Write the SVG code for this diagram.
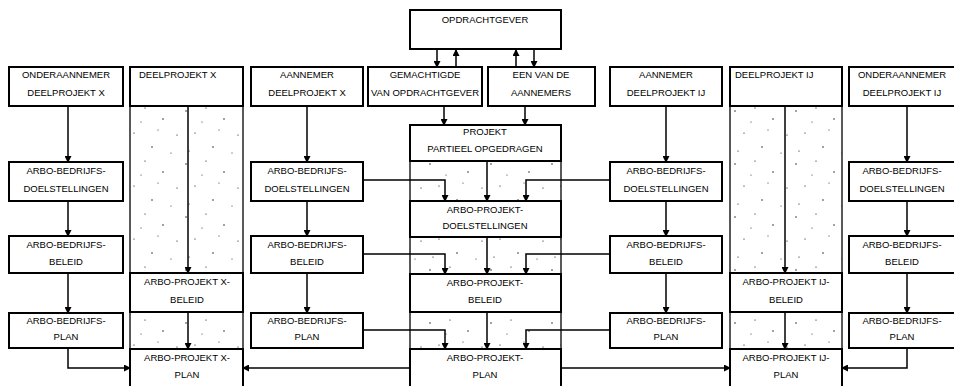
<svg xmlns="http://www.w3.org/2000/svg" width="954" height="386" viewBox="0 0 954 386">
<defs>
<pattern id="dots" width="61" height="53" patternUnits="userSpaceOnUse">
<circle cx="3" cy="5" r="0.7"/><circle cx="23" cy="2" r="0.6"/><circle cx="41" cy="13" r="0.7"/><circle cx="55" cy="29" r="0.6"/><circle cx="12" cy="27" r="0.6"/><circle cx="30" cy="41" r="0.7"/><circle cx="49" cy="47" r="0.5"/><circle cx="19" cy="16" r="0.5"/><circle cx="6" cy="45" r="0.6"/><circle cx="36" cy="24" r="0.5"/>
</pattern>
<marker id="ah" markerWidth="7" markerHeight="7" refX="6" refY="3.5" orient="auto" markerUnits="userSpaceOnUse">
<path d="M0,0 L7,3.5 L0,7 Z" fill="#000"/>
</marker>
<style>
.b{fill:#fff;stroke:#000;stroke-width:2}
.s{fill:url(#dots);stroke:#000;stroke-width:1.3}
.t{font-family:"Liberation Sans",Arial,sans-serif;font-size:9.5px;fill:#000;text-anchor:middle}
.l{text-anchor:start}
.c{fill:none;stroke:#000;stroke-width:1.5;marker-end:url(#ah)}
</style>
</defs>
<rect width="954" height="386" fill="#fff"/>

<g id="col-deelprojekt-x">
<rect class="s" x="130" y="67" width="113" height="320"/>
</g>
<g id="col-central">
<rect class="s" x="410" y="125" width="151" height="262"/>
</g>
<g id="col-deelprojekt-ij">
<rect class="s" x="730" y="67" width="112" height="320"/>
</g>

<g id="opdrachtgever"><rect class="b" x="410" y="10" width="151" height="39"/><text class="t" x="485" y="23">OPDRACHTGEVER</text></g>

<g id="onderaannemer-x"><rect class="b" x="9" y="67" width="114" height="39"/><text class="t" x="66" y="78">ONDERAANNEMER</text><text class="t" x="66" y="96">DEELPROJEKT X</text></g>
<g id="deelprojekt-x"><rect class="b" x="130" y="67" width="113" height="39"/><text class="t l" x="139" y="78">DEELPROJEKT X</text></g>
<g id="aannemer-x"><rect class="b" x="251" y="67" width="112" height="39"/><text class="t" x="307" y="78">AANNEMER</text><text class="t" x="307" y="96">DEELPROJEKT X</text></g>
<g id="gemachtigde"><rect class="b" x="368" y="67" width="114" height="39"/><text class="t" x="425" y="78">GEMACHTIGDE</text><text class="t" x="425" y="96">VAN OPDRACHTGEVER</text></g>
<g id="een-van-de-aannemers"><rect class="b" x="488" y="67" width="107" height="39"/><text class="t" x="541" y="78">EEN VAN DE</text><text class="t" x="541" y="96">AANNEMERS</text></g>
<g id="aannemer-ij"><rect class="b" x="610" y="67" width="112" height="39"/><text class="t" x="666" y="78">AANNEMER</text><text class="t" x="666" y="96">DEELPROJEKT IJ</text></g>
<g id="deelprojekt-ij"><rect class="b" x="730" y="67" width="112" height="39"/><text class="t l" x="735" y="78">DEELPROJEKT IJ</text></g>
<g id="onderaannemer-ij"><rect class="b" x="849" y="67" width="112" height="39"/><text class="t" x="902" y="78">ONDERAANNEMER</text><text class="t" x="902" y="96">DEELPROJEKT IJ</text></g>

<g id="projekt-partieel"><rect class="b" x="410" y="125" width="151" height="36"/><text class="t" x="485" y="135">PROJEKT</text><text class="t" x="485" y="152">PARTIEEL OPGEDRAGEN</text></g>

<g id="a-doel"><rect class="b" x="9" y="162" width="114" height="39"/><text class="t" x="66" y="174">ARBO-BEDRIJFS-</text><text class="t" x="66" y="192">DOELSTELLINGEN</text></g>
<g id="a-beleid"><rect class="b" x="9" y="236" width="114" height="37"/><text class="t" x="66" y="248">ARBO-BEDRIJFS-</text><text class="t" x="66" y="265">BELEID</text></g>
<g id="a-plan"><rect class="b" x="9" y="313" width="114" height="35"/><text class="t" x="66" y="324">ARBO-BEDRIJFS-</text><text class="t" x="66" y="340">PLAN</text></g>

<g id="b-doel"><rect class="b" x="251" y="162" width="112" height="39"/><text class="t" x="307" y="174">ARBO-BEDRIJFS-</text><text class="t" x="307" y="192">DOELSTELLINGEN</text></g>
<g id="b-beleid"><rect class="b" x="251" y="236" width="112" height="37"/><text class="t" x="307" y="248">ARBO-BEDRIJFS-</text><text class="t" x="307" y="265">BELEID</text></g>
<g id="b-plan"><rect class="b" x="251" y="313" width="112" height="35"/><text class="t" x="307" y="324">ARBO-BEDRIJFS-</text><text class="t" x="307" y="340">PLAN</text></g>

<g id="c-doel"><rect class="b" x="610" y="162" width="112" height="39"/><text class="t" x="666" y="174">ARBO-BEDRIJFS-</text><text class="t" x="666" y="192">DOELSTELLINGEN</text></g>
<g id="c-beleid"><rect class="b" x="610" y="236" width="112" height="37"/><text class="t" x="666" y="248">ARBO-BEDRIJFS-</text><text class="t" x="666" y="265">BELEID</text></g>
<g id="c-plan"><rect class="b" x="610" y="313" width="112" height="35"/><text class="t" x="666" y="324">ARBO-BEDRIJFS-</text><text class="t" x="666" y="340">PLAN</text></g>

<g id="d-doel"><rect class="b" x="849" y="162" width="112" height="39"/><text class="t" x="902" y="174">ARBO-BEDRIJFS-</text><text class="t" x="902" y="192">DOELSTELLINGEN</text></g>
<g id="d-beleid"><rect class="b" x="849" y="236" width="112" height="37"/><text class="t" x="902" y="248">ARBO-BEDRIJFS-</text><text class="t" x="902" y="265">BELEID</text></g>
<g id="d-plan"><rect class="b" x="849" y="313" width="112" height="35"/><text class="t" x="902" y="324">ARBO-BEDRIJFS-</text><text class="t" x="902" y="340">PLAN</text></g>

<g id="x-beleid"><rect class="b" x="130" y="273" width="113" height="39"/><text class="t" x="187" y="285">ARBO-PROJEKT X-</text><text class="t" x="187" y="303">BELEID</text></g>
<g id="x-plan"><rect class="b" x="130" y="349" width="113" height="40"/><text class="t" x="187" y="361">ARBO-PROJEKT X-</text><text class="t" x="187" y="378">PLAN</text></g>

<g id="p-doel"><rect class="b" x="410" y="201" width="151" height="36"/><text class="t" x="485" y="213">ARBO-PROJEKT-</text><text class="t" x="485" y="229">DOELSTELLINGEN</text></g>
<g id="p-beleid"><rect class="b" x="410" y="274" width="151" height="38"/><text class="t" x="485" y="286">ARBO-PROJEKT-</text><text class="t" x="485" y="303">BELEID</text></g>
<g id="p-plan"><rect class="b" x="410" y="349" width="151" height="40"/><text class="t" x="485" y="361">ARBO-PROJEKT-</text><text class="t" x="485" y="378">PLAN</text></g>

<g id="ij-beleid"><rect class="b" x="730" y="273" width="112" height="39"/><text class="t" x="786" y="285">ARBO-PROJEKT IJ-</text><text class="t" x="786" y="303">BELEID</text></g>
<g id="ij-plan"><rect class="b" x="730" y="349" width="112" height="40"/><text class="t" x="786" y="361">ARBO-PROJEKT IJ-</text><text class="t" x="786" y="378">PLAN</text></g>

<g id="connectors">
<line class="c" x1="437" y1="49" x2="437" y2="67"/>
<line class="c" x1="456" y1="67" x2="456" y2="50"/>
<line class="c" x1="516" y1="67" x2="516" y2="50"/>
<line class="c" x1="534" y1="49" x2="534" y2="67"/>
<line class="c" x1="444" y1="106" x2="444" y2="125"/>
<line class="c" x1="525" y1="106" x2="525" y2="125"/>

<line class="c" x1="68" y1="106" x2="68" y2="162"/>
<line class="c" x1="68" y1="201" x2="68" y2="236"/>
<line class="c" x1="68" y1="273" x2="68" y2="313"/>
<line class="c" x1="307" y1="106" x2="307" y2="162"/>
<line class="c" x1="307" y1="201" x2="307" y2="236"/>
<line class="c" x1="307" y1="273" x2="307" y2="313"/>
<line class="c" x1="666" y1="106" x2="666" y2="162"/>
<line class="c" x1="666" y1="201" x2="666" y2="236"/>
<line class="c" x1="666" y1="273" x2="666" y2="313"/>
<line class="c" x1="907" y1="106" x2="907" y2="162"/>
<line class="c" x1="907" y1="201" x2="907" y2="236"/>
<line class="c" x1="907" y1="273" x2="907" y2="313"/>

<line class="c" x1="188" y1="106" x2="188" y2="273"/>
<line class="c" x1="188" y1="312" x2="188" y2="349"/>
<line class="c" x1="785" y1="106" x2="785" y2="273"/>
<line class="c" x1="785" y1="312" x2="785" y2="349"/>

<line class="c" x1="487" y1="161" x2="487" y2="201"/>
<line class="c" x1="487" y1="237" x2="487" y2="274"/>
<line class="c" x1="487" y1="312" x2="487" y2="349"/>

<path class="c" d="M363,180 H445 V201"/>
<path class="c" d="M363,254 H445 V274"/>
<path class="c" d="M363,330 H445 V349"/>
<path class="c" d="M610,180 H526 V201"/>
<path class="c" d="M610,254 H526 V274"/>
<path class="c" d="M610,330 H526 V349"/>

<path class="c" d="M68,348 V368 H130"/>
<path class="c" d="M907,348 V368 H842"/>
<line class="c" x1="410" y1="368" x2="243" y2="368"/>
<line class="c" x1="561" y1="368" x2="730" y2="368"/>
</g>
</svg>
